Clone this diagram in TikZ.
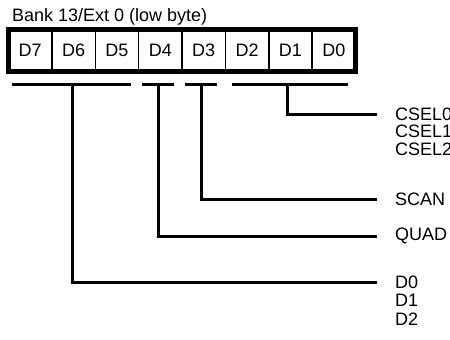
\documentclass[tikz,border=0pt]{standalone}
\usepackage{fontspec}
\setmainfont{Liberation Sans}
\begin{document}
\begin{tikzpicture}[x=1bp,y=-1bp,
  every node/.style={font=\fontsize{18bp}{22bp}\selectfont, inner sep=0pt, outer sep=0pt},
  cell/.style={draw, line width=1.5bp, minimum width=43.375bp, minimum height=42bp, anchor=center},
  frame/.style={line width=4.5bp},
  bar/.style={line width=3bp},
  lbl/.style={anchor=west}]
\useasboundingbox (0,0) rectangle (450,339);
\node[anchor=base west] (title) at (12,21) {Bank 13/Ext 0 (low byte)};
\foreach \i in {7,...,0} {
  \node[cell] (c\i) at ({8.5+43.375*(7.5-\i)},50.5) {D\i};
}
\draw[frame] (c7.north west) rectangle (c0.south east);
% brackets
\coordinate (b7a) at (12,84);  \coordinate (b5b) at (131,84);
\coordinate (b4a) at (142,84); \coordinate (b4b) at (174,84);
\coordinate (b3a) at (185,84); \coordinate (b3b) at (217,84);
\coordinate (b2a) at (232,84); \coordinate (b0b) at (348,84);
\coordinate (t765) at (72,84);
\coordinate (t4) at (158,84);
\coordinate (t3) at (201,84);
\coordinate (t210) at (287,84);
\draw[bar] (b7a) -- (b5b);
\draw[bar] (b4a) -- (b4b);
\draw[bar] (b3a) -- (b3b);
\draw[bar] (b2a) -- (b0b);
% labels
\node[lbl] (csel0) at (395,114) {CSEL0};
\node[lbl] (csel1) at (395,131.5) {CSEL1};
\node[lbl] (csel2) at (395,149) {CSEL2};
\node[lbl] (scan) at (395,199) {SCAN};
\node[lbl] (quad) at (395,236) {QUAD};
\node[lbl] (d0) at (395,282) {D0};
\node[lbl] (d1) at (395,300.5) {D1};
\node[lbl] (d2) at (395,319) {D2};
% connectors
\draw[bar] (t210) |- ([xshift=-18bp]csel0.west);
\draw[bar] (t3) |- ([xshift=-18bp]scan.west);
\draw[bar] (t4) |- ([xshift=-18bp]quad.west);
\draw[bar] (t765) |- ([xshift=-18bp]d0.west);
\end{tikzpicture}
\end{document}
